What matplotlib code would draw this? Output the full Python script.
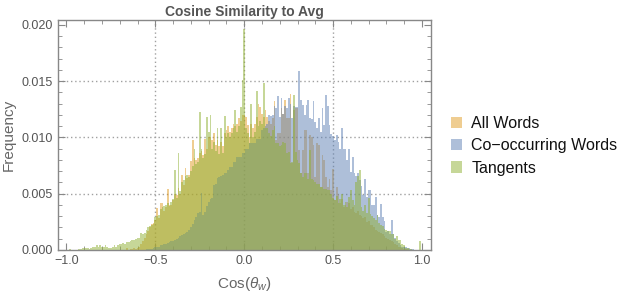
import numpy as np
import matplotlib
matplotlib.use("Agg")
import matplotlib.pyplot as plt
from matplotlib.ticker import MultipleLocator, FuncFormatter
from matplotlib.patches import Patch

plt.rcParams['font.family'] = ['Liberation Sans', 'DejaVu Sans']
plt.rcParams['mathtext.fontset'] = 'custom'
plt.rcParams['mathtext.rm'] = 'Liberation Sans'
plt.rcParams['mathtext.it'] = 'Liberation Sans:italic'

# Histogram bins: centres from -1.00 to 1.00, width 0.01
bin_centers = np.round(np.linspace(-1.0, 1.0, 201), 2)
bin_width = 0.01

# Frequencies in units of 1e-4, one value per bin
all_words = [
    0, 0, 0, 0, 0, 0, 0, 0, 0, 0,
    0, 0, 0, 0, 0, 0, 0, 0, 0, 0,
    0, 0, 0, 0, 0, 0, 0, 0, 0, 0,
    0, 0, 0, 0, 2, 0, 1, 1, 2, 1,
    2, 3, 5, 8, 11, 14, 17, 20, 23, 24,
    27, 37, 28, 42, 42, 35, 38, 54, 40, 40,
    44, 50, 49, 55, 50, 67, 58, 73, 64, 67,
    79, 98, 82, 80, 82, 86, 88, 84, 99, 90,
    100, 100, 98, 104, 93, 98, 92, 96, 92, 104,
    107, 110, 105, 108, 112, 110, 112, 117, 115, 120,
    120, 118, 111, 100, 112, 108, 112, 118, 130, 127,
    121, 118, 124, 118, 115, 112, 117, 132, 98, 104,
    104, 126, 121, 133, 117, 117, 139, 77, 124, 126,
    126, 89, 68, 89, 107, 107, 68, 102, 100, 93,
    65, 95, 93, 56, 84, 80, 65, 56, 63, 53,
    72, 44, 56, 50, 42, 45, 38, 40, 43, 42,
    36, 38, 34, 33, 35, 31, 30, 28, 29, 25,
    26, 22, 22, 20, 18, 17, 16, 15, 14, 12,
    11, 10, 9, 8, 7, 5, 4, 3, 3, 2,
    1, 1, 1, 0, 0, 0, 0, 0, 0, 0, 0,
]

co_occurring = [
    0, 0, 0, 0, 0, 0, 0, 0, 0, 0,
    0, 0, 0, 0, 0, 0, 0, 0, 0, 0,
    0, 0, 0, 0, 0, 0, 0, 0, 0, 0,
    0, 0, 0, 0, 0, 0, 0, 0, 0, 0,
    0, 0, 0, 0, 0, 1, 1, 1, 1, 2,
    3, 3, 3, 4, 4, 5, 5, 6, 7, 8,
    8, 9, 10, 11, 12, 13, 14, 15, 16, 18,
    20, 23, 27, 29, 33, 34, 51, 31, 34, 39,
    43, 45, 46, 58, 59, 64, 65, 66, 67, 68,
    68, 71, 74, 74, 78, 78, 83, 83, 83, 86,
    86, 90, 90, 95, 95, 95, 95, 99, 99, 99,
    107, 108, 110, 112, 120, 119, 120, 128, 126, 137,
    118, 135, 121, 128, 126, 135, 130, 117, 128, 127,
    127, 159, 133, 129, 120, 129, 133, 117, 116, 132,
    114, 108, 117, 105, 126, 111, 138, 128, 111, 103,
    101, 98, 102, 96, 90, 108, 90, 90, 80, 90,
    69, 83, 68, 66, 68, 62, 57, 49, 63, 47,
    53, 53, 40, 40, 47, 31, 29, 41, 29, 26,
    16, 17, 14, 27, 14, 11, 8, 6, 4, 3,
    3, 3, 2, 2, 1, 1, 0, 0, 0, 0, 0,
]

tangents = [
    0, 0, 1, 0, 0, 0, 0, 1, 1, 2,
    2, 2, 2, 1, 2, 3, 3, 4, 3, 4,
    3, 3, 4, 3, 2, 2, 3, 4, 3, 4,
    5, 5, 6, 5, 7, 7, 8, 9, 9, 10,
    11, 11, 15, 14, 15, 18, 20, 21, 22, 23,
    29, 30, 31, 36, 38, 39, 40, 42, 39, 43,
    45, 71, 46, 86, 52, 60, 62, 66, 67, 65,
    70, 75, 90, 76, 78, 123, 90, 82, 85, 118,
    105, 120, 90, 96, 88, 108, 85, 108, 86, 119,
    100, 104, 100, 104, 108, 124, 105, 110, 127, 151,
    196, 108, 104, 95, 130, 100, 105, 141, 110, 115,
    112, 148, 108, 108, 104, 101, 107, 110, 95, 95,
    92, 93, 96, 95, 86, 87, 77, 78, 138, 87,
    80, 77, 68, 65, 68, 68, 63, 89, 63, 62,
    60, 59, 59, 56, 56, 54, 54, 53, 53, 50,
    46, 44, 48, 42, 45, 50, 40, 43, 38, 47,
    53, 44, 40, 60, 66, 71, 38, 35, 40, 33,
    46, 32, 30, 28, 27, 31, 24, 22, 21, 19,
    18, 17, 17, 14, 14, 10, 12, 9, 9, 5,
    4, 2, 2, 1, 1, 0, 0, 0, 0, 8, 0,
]
unit = 1e-4

series_names = ["All Words", "Co\u2212occurring Words", "Tangents"]
series_colors = ["#E19C24", "#5E81B5", "#8FB032"]
series_values = [all_words, co_occurring, tangents]

fig = plt.figure(figsize=(6.19, 2.93), dpi=100)
ax = fig.add_axes([0.093, 0.147, 0.603, 0.785])

grid_c = "#a0a0a0"
for gx in [-0.5, 0.0, 0.5]:
    ax.axvline(gx, color=grid_c, lw=1.0, ls=(0, (1, 2)), zorder=0)
for gy in [0.005, 0.010, 0.015]:
    ax.axhline(gy, color=grid_c, lw=1.0, ls=(0, (1, 2)), zorder=0)

edges = np.append(bin_centers - bin_width / 2, bin_centers[-1] + bin_width / 2)
handles = []
for name, col, vals in zip(series_names, series_colors, series_values):
    ax.hist(bin_centers, bins=edges, weights=np.array(vals) * unit,
            histtype='stepfilled', color=col, alpha=0.5, linewidth=0, zorder=2)
    handles.append(Patch(facecolor=col, alpha=0.5, edgecolor='none', label=name))

ax.set_xlim(-1.05, 1.05)
ax.set_ylim(0, 0.02045)

frame_c = "#888888"
for s in ax.spines.values():
    s.set_color(frame_c)
    s.set_linewidth(1.0)

ax.xaxis.set_major_locator(MultipleLocator(0.5))
ax.xaxis.set_minor_locator(MultipleLocator(0.1))
ax.yaxis.set_major_locator(MultipleLocator(0.005))
ax.yaxis.set_minor_locator(MultipleLocator(0.001))
ax.xaxis.set_major_formatter(FuncFormatter(lambda v, p: f"{v:.1f}".replace("-", "\u2212")))
ax.yaxis.set_major_formatter(FuncFormatter(lambda v, p: f"{v:.3f}"))
ax.tick_params(which='both', direction='in', top=True, right=True,
               color=frame_c, labelcolor="#555555", labelsize=9)
ax.tick_params(which='major', length=5, width=0.8)
ax.tick_params(which='minor', length=3, width=0.6)

ax.set_title("Cosine Similarity to Avg", fontsize=10, fontweight='bold',
             color="#555555", pad=3)
ax.set_xlabel(r"Cos($\theta_w$)", fontsize=11, color="#666666", labelpad=6)
ax.set_ylabel("Frequency", fontsize=11, color="#666666", labelpad=4)

leg = ax.legend(handles=handles, loc='center left', bbox_to_anchor=(1.036, 0.452),
                frameon=False, fontsize=11.5, handlelength=0.7, handleheight=0.7,
                handletextpad=0.6, labelspacing=0.45, borderaxespad=0)
for t in leg.get_texts():
    t.set_color("#111111")

fig.savefig("out.png", dpi=100)
